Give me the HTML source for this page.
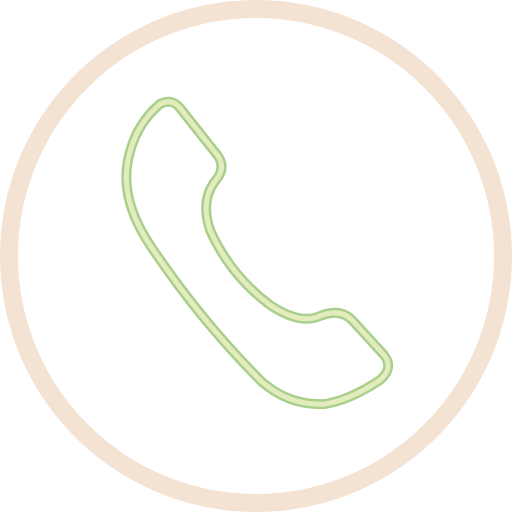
<!DOCTYPE html>
<html>
<head>
<meta charset="utf-8">
<style>
  html,body{margin:0;padding:0;background:#fff;}
  svg{display:block;}
</style>
</head>
<body>
<svg width="512" height="512" viewBox="0 0 512 512">
  <circle cx="256" cy="256" r="247" fill="none" stroke="#f4e2d2" stroke-width="18"/>
  <g>
    <path d="M160,104 Q172,98 180,108 L218,156 Q226,168 216,180 Q200,200 210,230 Q230,275 270,305 Q300,325 320,316 Q340,308 352,320 L384,355 Q394,368 380,380 Q350,400 325,404 Q290,406 262,382 Q200,320 150,245 Q120,200 128,160 Q135,125 160,104 Z"
      fill="none" stroke="#a9cf8c" stroke-width="10" stroke-linejoin="round"/>
    <path d="M160,104 Q172,98 180,108 L218,156 Q226,168 216,180 Q200,200 210,230 Q230,275 270,305 Q300,325 320,316 Q340,308 352,320 L384,355 Q394,368 380,380 Q350,400 325,404 Q290,406 262,382 Q200,320 150,245 Q120,200 128,160 Q135,125 160,104 Z"
      fill="none" stroke="#e3ecbc" stroke-width="5" stroke-linejoin="round"/>
  </g>
</svg>
</body>
</html>
